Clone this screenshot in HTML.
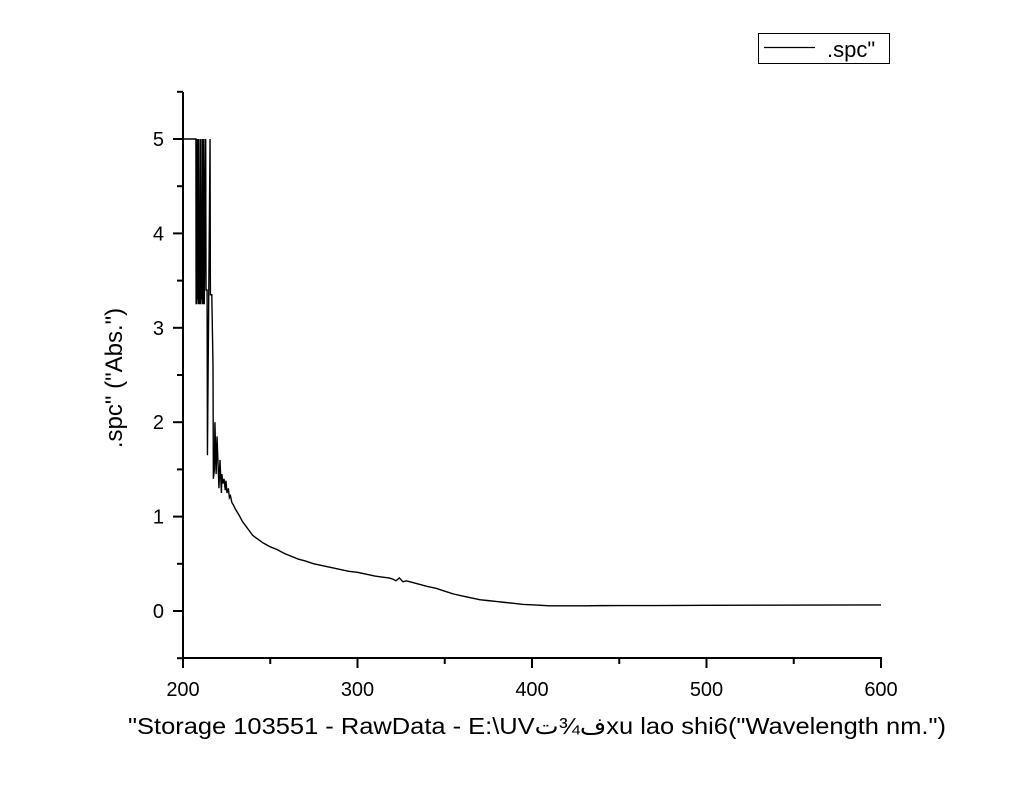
<!DOCTYPE html>
<html><head><meta charset="utf-8">
<style>
html,body{margin:0;padding:0;background:#fff;}
svg{display:block;font-family:"Liberation Sans",Arial,sans-serif;}
</style></head>
<body>
<svg id="chart" width="1024" height="790" viewBox="0 0 1024 790" xmlns="http://www.w3.org/2000/svg">
<rect width="1024" height="790" fill="#fff"/>
<g id="axes"></g>
<path id="series" fill="none" stroke="#000" stroke-width="1.4" stroke-linejoin="miter"/>
<g>
<rect x="758.5" y="33.5" width="131" height="30" fill="#fff" stroke="#000" stroke-width="1"/>
<line x1="764" y1="47.5" x2="815" y2="47.5" stroke="#000" stroke-width="1.2"/>
<text x="827" y="57" font-size="22">.spc"</text>
</g>
<text transform="translate(122,378) rotate(-90)" text-anchor="middle" font-size="24">.spc" ("Abs.")</text>
<text x="128" y="734" font-size="23" textLength="818" lengthAdjust="spacingAndGlyphs" direction="ltr" unicode-bidi="bidi-override">"Storage 103551 - RawData - E:\UVت¾فxu lao shi6("Wavelength nm.")</text>
</svg>
<script>
const xTicks = [200, 300, 400, 500, 600];
const yTicks = [0, 1, 2, 3, 4, 5];
const wavelengths = [200,207.4,207.5,207.9,208,208.4,208.5,208.9,209,209.4,209.5,209.9,210,210.4,210.5,210.9,211,211.4,211.5,212,212.2,213,213.2,213.8,214,215.5,215.7,216.5,217.2,217.4,218,218.3,219,219.5,220.6,221.2,222,222.3,222.8,223.5,224.2,224.6,225.2,226,226.6,227.2,228,229,230,232,234,236,238,240,243,246,250,254,258,262,266,270,275,280,285,290,295,300,305,310,314,318,320,322,324,326,328,332,336,340,345,350,355,360,365,370,375,380,385,390,395,400,405,410,420,430,440,450,470,500,530,560,600];
const absorbance = [5,5,3.25,5,3.25,5,3.3,5,3.25,4.1,3.25,5,3.25,4.1,3.3,5,3.25,5,3.25,5,3.25,5,3.4,3.4,1.65,5,3.35,3.35,2.6,1.4,1.5,2.0,1.45,1.85,1.3,1.6,1.25,1.45,1.35,1.4,1.28,1.38,1.25,1.3,1.2,1.22,1.15,1.12,1.08,1.02,0.95,0.9,0.85,0.8,0.76,0.72,0.68,0.65,0.61,0.58,0.55,0.53,0.5,0.48,0.46,0.44,0.42,0.41,0.39,0.37,0.36,0.35,0.34,0.32,0.35,0.31,0.32,0.3,0.28,0.26,0.24,0.21,0.18,0.16,0.14,0.12,0.11,0.1,0.09,0.08,0.07,0.065,0.06,0.055,0.055,0.055,0.057,0.058,0.058,0.06,0.062,0.063,0.064,0.065];

const X0=183, X1=881, Y0=611, Y5=139;
function xs(v){return X0+(v-200)*(X1-X0)/400;}
function ys(v){return Y0-(v)*(Y0-Y5)/5;}
const NS="http://www.w3.org/2000/svg";
const axes=document.getElementById('axes');
function mk(tag,attrs){const e=document.createElementNS(NS,tag);for(const k in attrs)e.setAttribute(k,attrs[k]);axes.appendChild(e);return e;}
let l=mk('line',{x1:X0,y1:92,x2:X0,y2:659,stroke:'#000','stroke-width':2});


l=mk('line',{x1:X0-1,y1:658,x2:X1+1,y2:658,stroke:'#000','stroke-width':2});


for(let i=0;i<xTicks.length;i++){
  const t=xTicks[i];const x=xs(t);
  l=mk('line',{x1:x,y1:658,x2:x,y2:668,stroke:'#000','stroke-width':2});
  
  
  const tx=mk('text',{x:x,y:696,'text-anchor':'middle','font-size':20});
  tx.textContent=t;
  
  
  if(i<xTicks.length-1){
    const m=xs((t+xTicks[i+1])/2);
    l=mk('line',{x1:m,y1:658,x2:m,y2:664,stroke:'#000','stroke-width':2});
    
    
  }
}
const yMinor=[-0.5,0.5,1.5,2.5,3.5,4.5,5.5];
for(const t of yTicks){
  const y=ys(t);
  l=mk('line',{x1:173,y1:y,x2:X0,y2:y,stroke:'#000','stroke-width':2});
  
  
  const tx=mk('text',{x:164,y:y+7,'text-anchor':'end','font-size':20});
  tx.textContent=t;
  
  
}
for(const t of yMinor){
  const y=ys(t);
  l=mk('line',{x1:177,y1:y,x2:X0,y2:y,stroke:'#000','stroke-width':2});
  
  
}
let d='';
for(let i=0;i<wavelengths.length;i++){d+=(i?'L':'M')+xs(wavelengths[i]).toFixed(2)+' '+ys(absorbance[i]).toFixed(2);}
document.getElementById('series').setAttribute('d',d);
</script>
</body></html>
